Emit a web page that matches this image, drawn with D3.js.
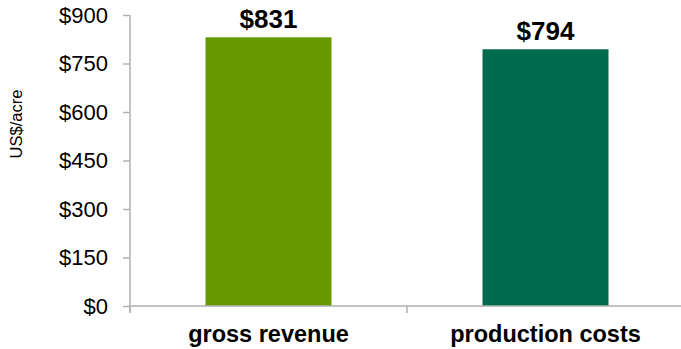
<!DOCTYPE html>
<html><head><meta charset="utf-8">
<script src="https://cdn.jsdelivr.net/npm/d3@7"></script>
<style>body{margin:0;background:#fff}svg{display:block}</style>
</head><body>
<script>
const categories = ["gross revenue", "production costs"];
const values = [831, 794];
const valueLabels = ["$831", "$794"];
const yTicks = [0, 150, 300, 450, 600, 750, 900];
const barColors = ["#669900", "#006A4F"];

(function () {
const W = 681, H = 349;
const mLeft = 130, mRight = 684, mTop = 15, mBottom = 306;
const svg = d3.select("body").append("svg").attr("width", W).attr("height", H);

const x = d3.scaleBand().domain(categories).range([mLeft, mRight]).paddingInner(0).paddingOuter(0);
const y = d3.scaleLinear().domain([0, 900]).range([mBottom, mTop]);
const axisColor = "#b0b0b0";
const font = "Liberation Sans, Arial, sans-serif";

// bars
const bw = 126;
svg.selectAll("rect.bar").data(categories).enter().append("rect")
  .attr("x", (d) => x(d) + x.bandwidth()/2 - bw/2)
  .attr("y", (d,i) => y(values[i]))
  .attr("width", bw)
  .attr("height", (d,i) => mBottom - y(values[i]))
  .attr("fill", (d,i) => barColors[i]);

// y axis
const yAxis = svg.append("g").attr("transform", `translate(${mLeft},0)`)
  .call(d3.axisLeft(y).tickValues(yTicks).tickFormat(d => "$" + d).tickSize(7).tickPadding(15));
yAxis.select(".domain").attr("stroke", axisColor).attr("stroke-width", 1.5).attr("d", `M0,${mTop}V${mBottom+6}`);
yAxis.selectAll(".tick line").attr("stroke", axisColor).attr("stroke-width", 1.5);
yAxis.selectAll(".tick text").attr("font-family", font).attr("font-size", 22).attr("fill", "#000");

// x axis
svg.append("line").attr("x1", mLeft).attr("x2", W).attr("y1", mBottom).attr("y2", mBottom)
  .attr("stroke", axisColor).attr("stroke-width", 1.5);
const bounds = [x(categories[0]), x(categories[1]), x(categories[1]) + x.bandwidth()];
svg.selectAll("line.xt").data(bounds).enter().append("line")
  .attr("x1", d => d).attr("x2", d => d).attr("y1", mBottom).attr("y2", mBottom + 7)
  .attr("stroke", axisColor).attr("stroke-width", 1.5);

svg.selectAll("text.cat").data(categories).enter().append("text")
  .attr("x", d => x(d) + x.bandwidth()/2).attr("y", 342)
  .attr("text-anchor", "middle").attr("font-family", font).attr("font-weight", "bold")
  .attr("font-size", 23.5).attr("fill", "#000").text(d => d);

// value labels
svg.selectAll("text.val").data(categories).enter().append("text")
  .attr("x", d => x(d) + x.bandwidth()/2).attr("y", (d,i) => y(values[i]) - 9)
  .attr("text-anchor", "middle").attr("font-family", font).attr("font-weight", "bold")
  .attr("font-size", 26).attr("fill", "#000").text((d,i) => valueLabels[i]);

// y title
svg.append("text").attr("transform", "translate(22,124) rotate(-90)")
  .attr("text-anchor", "middle").attr("font-family", font).attr("font-size", 16.5)
  .attr("fill", "#000").text("US$/acre");
})();
</script>
</body></html>
